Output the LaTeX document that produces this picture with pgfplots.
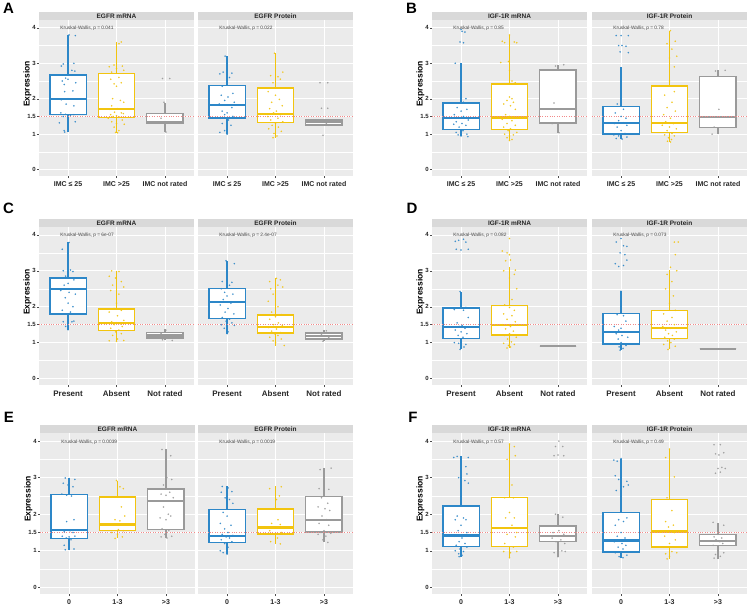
\documentclass[border=0pt]{standalone}
\usepackage{fontspec}
\setmainfont{Liberation Sans}
\usepackage{pgfplots}
\pgfplotsset{compat=1.18}
\usepgfplotslibrary{statistics}

\definecolor{cB}{HTML}{2D87C8}
\definecolor{cY}{HTML}{F2C40F}
\definecolor{cG}{HTML}{9A9A9A}
\definecolor{bgG}{HTML}{EBEBEB}
\definecolor{stG}{HTML}{D9D9D9}
\definecolor{redL}{HTML}{F28A8A}

\pgfplotsset{
  facet/.style={
    width=155pt, scale only axis,
    xmin=0.4, xmax=3.6, ymin=-0.18, ymax=4.22,
    axis background/.style={fill=bgG},
    axis line style={draw=none},
    xtick={1,2,3}, ytick={0,1,1.5,2,3,4}, yticklabels={0,1,1.5,2,3,4},
    minor ytick={0.5,2.5,3.5},
    grid=both,
    major grid style={white, line width=0.7pt},
    minor grid style={white, line width=0.35pt},
    tick align=outside, major tick length=2pt, minor tick length=0pt,
    tick style={black!70, line width=0.4pt},
    xtick pos=bottom, ytick pos=left,
    yticklabel style={font=\bfseries\fontsize{6}{7}\selectfont, text=black!85, inner xsep=1pt},
    /pgf/number format/assume math mode=true,
    clip=false,
    every axis y label/.style={at={([xshift=-11.5pt]rel axis cs:0,0.59)}, rotate=90, anchor=center,
      font=\bfseries\fontsize{8.5}{9}\selectfont},
  },
  nolab/.style={yticklabels={}, ytick style={draw=none}, ylabel={}},
  labA/.style={xticklabels={IMC ≤ 25, IMC >25, IMC not rated},
    xticklabel style={font=\bfseries\fontsize{7}{8}\selectfont, text=black!85}},
  labC/.style={xticklabels={Present, Absent, Not rated},
    xticklabel style={font=\bfseries\fontsize{8}{9}\selectfont, text=black!85}},
  labE/.style={xticklabels={0, 1-3, >3},
    xticklabel style={font=\bfseries\fontsize{7}{8}\selectfont, text=black!85}},
  boxplot/draw direction=y,
  boxplot/box extend=0.75,
  boxplot/whisker extend=0,
  boxplot/every box/.style={fill=white},
  boxplot/every median/.style={line width=2.2pt},
  bx/.style n args={6}{boxplot prepared={draw position=#1, lower whisker=#2,
      lower quartile=#3, median=#4, upper quartile=#5, upper whisker=#6}, line width=1.4pt},
  pts/.style={only marks, mark=*, mark size=0.6pt, color=#1, opacity=0.75},
  redl/.style={redL, dash pattern=on 1pt off 1.4pt, line width=0.8pt},
}

\newcommand\strip[2]{%
  \fill[stG] (rel axis cs:0,1) rectangle ([yshift=8pt]rel axis cs:1,1);
  \node[font=\bfseries\fontsize{6.5}{7}\selectfont, text=black!85] at ([yshift=4pt]rel axis cs:0.5,1) {#1};
  \node[anchor=west, font=\fontsize{4.8}{5}\selectfont, text=black!75] at (axis cs:0.77,3.98) {Kruskal-Wallis, p = #2};
}

\begin{document}
\begin{tikzpicture}
\useasboundingbox (0,0) rectangle (753pt,-606pt);

% ---------------- A ----------------
\begin{axis}[facet, labA, height=156pt, at={(39pt,-20pt)}, anchor=north west, ylabel={Expression}]
\strip{EGFR mRNA}{0.041}
\addplot[bx={1}{1.06}{1.55}{1.99}{2.67}{3.80}, draw=cB] coordinates {};
\addplot[bx={2}{1.04}{1.47}{1.70}{2.71}{3.60}, draw=cY] coordinates {};
\addplot[bx={3}{1.06}{1.30}{1.34}{1.58}{1.89}, draw=cG] coordinates {};
\addplot[redl] coordinates {(0.4,1.5) (3.6,1.5)};
\addplot[pts=cB] coordinates {(1.02,3.80)(1.15,3.78)(1.12,3.00)(0.90,2.98)(0.86,2.92)(1.08,2.80)(1.14,2.78)(0.95,2.58)(1.00,2.55)(0.88,2.50)(1.16,2.45)(0.92,2.40)(1.10,2.22)(0.93,2.20)(1.00,2.00)(0.86,1.97)(0.96,1.85)(1.12,1.80)(0.85,1.60)(0.95,1.56)(1.12,1.55)(1.05,1.53)(0.90,1.50)(1.00,1.40)(1.15,1.35)(0.82,1.32)(0.92,1.10)(0.93,1.06)};
\addplot[pts=cY] coordinates {(2.10,3.60)(2.05,3.55)(1.95,2.95)(2.12,2.92)(1.85,2.90)(2.00,2.85)(2.15,2.80)(1.90,2.75)(2.05,2.60)(1.88,2.55)(2.10,2.45)(1.95,2.42)(2.00,2.35)(1.92,2.00)(2.08,1.95)(2.15,1.90)(1.90,1.80)(2.02,1.72)(1.85,1.70)(1.96,1.62)(2.10,1.60)(2.14,1.58)(1.88,1.55)(2.00,1.52)(1.93,1.50)(2.06,1.48)(1.83,1.45)(2.12,1.40)(1.90,1.35)(2.00,1.30)(2.16,1.28)(1.95,1.20)(2.05,1.10)(1.98,1.05)(2.02,1.04)};
\addplot[pts=cG] coordinates {(2.95,2.57)(3.10,2.57)(2.98,1.90)(3.00,1.35)(3.05,1.31)(2.92,1.45)(3.02,1.06)};
\end{axis}
\begin{axis}[facet, labA, nolab, height=156pt, at={(198pt,-20pt)}, anchor=north west]
\strip{EGFR Protein}{0.022}
\addplot[bx={1}{1.00}{1.46}{1.82}{2.38}{3.20}, draw=cB] coordinates {};
\addplot[bx={2}{0.90}{1.33}{1.58}{2.30}{3.28}, draw=cY] coordinates {};
\addplot[bx={3}{1.26}{1.26}{1.34}{1.40}{1.40}, draw=cG] coordinates {};
\addplot[redl] coordinates {(0.4,1.5) (3.6,1.5)};
\addplot[pts=cB] coordinates {(0.96,3.20)(0.92,2.75)(1.10,2.72)(0.85,2.70)(1.05,2.60)(1.00,2.50)(0.90,2.35)(1.12,2.15)(0.88,2.10)(1.02,2.05)(0.95,1.95)(1.15,1.90)(0.84,1.85)(1.05,1.82)(1.10,1.75)(0.90,1.65)(1.00,1.60)(0.95,1.55)(1.12,1.50)(0.86,1.45)(1.03,1.40)(0.90,1.30)(1.08,1.25)(0.95,1.10)(0.85,1.05)(1.00,1.00)};
\addplot[pts=cY] coordinates {(1.98,3.28)(2.15,2.75)(1.90,2.65)(2.05,2.62)(2.10,2.55)(1.95,2.45)(2.12,2.30)(1.85,2.20)(2.00,2.10)(2.08,1.98)(1.92,1.90)(2.14,1.80)(1.88,1.72)(2.02,1.65)(1.96,1.60)(2.10,1.55)(1.84,1.50)(2.05,1.45)(1.90,1.40)(2.15,1.35)(2.00,1.30)(1.93,1.25)(2.06,1.20)(1.86,1.15)(2.12,1.08)(1.97,1.02)(2.03,0.95)(1.95,0.90)};
\addplot[pts=cG] coordinates {(2.92,2.45)(3.08,2.45)(2.95,1.73)(3.08,1.73)(2.98,0.97)(3.05,1.30)(3.10,1.25)};
\end{axis}

% ---------------- B ----------------
\begin{axis}[facet, labA, height=156pt, at={(432pt,-20pt)}, anchor=north west, ylabel={Expression}]
\strip{IGF-1R mRNA}{0.85}
\addplot[bx={1}{0.95}{1.14}{1.45}{1.88}{3.01}, draw=cB] coordinates {};
\addplot[bx={2}{0.81}{1.14}{1.47}{2.41}{3.80}, draw=cY] coordinates {};
\addplot[bx={3}{1.04}{1.31}{1.72}{2.81}{2.96}, draw=cG] coordinates {};
\addplot[redl] coordinates {(0.4,1.5) (3.6,1.5)};
\addplot[pts=cB] coordinates {(1.00,3.95)(1.02,3.90)(1.08,3.88)(0.98,3.60)(1.05,3.58)(0.88,3.00)(1.10,2.00)(1.05,1.90)(0.92,1.75)(1.12,1.70)(1.00,1.65)(0.86,1.55)(1.05,1.50)(0.95,1.45)(1.15,1.40)(0.90,1.35)(1.02,1.30)(0.85,1.28)(1.10,1.25)(0.96,1.20)(1.04,1.10)(0.90,1.05)(1.12,1.00)(0.94,0.98)(1.00,0.95)(1.14,0.93)};
\addplot[pts=cY] coordinates {(1.85,3.62)(1.90,3.58)(2.10,3.60)(2.15,3.58)(2.00,3.80)(1.82,3.02)(1.98,3.05)(2.00,2.80)(2.05,2.50)(2.12,2.45)(2.00,2.05)(2.05,2.00)(1.95,1.95)(2.08,1.90)(1.88,1.85)(2.02,1.80)(2.12,1.70)(1.92,1.55)(2.00,1.50)(2.10,1.45)(1.85,1.42)(2.05,1.38)(1.95,1.30)(2.12,1.25)(1.88,1.20)(2.02,1.15)(1.97,1.10)(2.15,1.05)(1.90,1.00)(2.08,0.98)(2.00,0.95)(1.95,0.90)(2.05,0.85)(2.00,0.82)};
\addplot[pts=cG] coordinates {(2.95,2.92)(3.12,2.96)(2.92,1.88)(2.88,1.30)(3.00,1.25)(3.02,1.04)};
\end{axis}
\begin{axis}[facet, labA, nolab, height=156pt, at={(592pt,-20pt)}, anchor=north west]
\strip{IGF-1R Protein}{0.78}
\addplot[bx={1}{0.85}{1.00}{1.31}{1.78}{2.90}, draw=cB] coordinates {};
\addplot[bx={2}{0.78}{1.04}{1.32}{2.36}{3.92}, draw=cY] coordinates {};
\addplot[bx={3}{1.00}{1.18}{1.49}{2.63}{2.80}, draw=cG] coordinates {};
\addplot[redl] coordinates {(0.4,1.5) (3.6,1.5)};
\addplot[pts=cB] coordinates {(0.90,3.78)(1.00,3.78)(1.15,3.78)(0.95,3.50)(1.02,3.50)(1.10,3.48)(0.98,3.32)(1.15,3.30)(0.92,1.85)(1.05,1.70)(0.88,1.60)(1.00,1.50)(1.10,1.45)(0.95,1.38)(1.05,1.32)(0.86,1.30)(1.12,1.25)(0.92,1.20)(1.00,1.10)(1.08,1.02)(0.85,0.98)(0.95,0.95)(1.12,0.92)(0.90,0.88)(1.02,0.86)};
\addplot[pts=cY] coordinates {(2.02,3.92)(1.95,3.55)(2.12,3.62)(2.05,3.40)(2.00,3.15)(2.15,3.20)(2.10,2.90)(2.00,2.50)(2.10,2.20)(1.90,2.10)(2.05,1.90)(1.95,1.75)(2.12,1.65)(1.88,1.55)(2.02,1.45)(1.92,1.35)(2.08,1.30)(1.85,1.25)(2.00,1.20)(2.14,1.15)(1.95,1.10)(2.05,1.02)(1.90,0.98)(2.10,0.95)(1.98,0.90)(2.04,0.85)(1.96,0.80)(2.02,0.78)};
\addplot[pts=cG] coordinates {(2.95,2.78)(3.15,2.80)(3.02,1.70)(2.92,1.20)(2.88,1.00)};
\end{axis}

% ---------------- C ----------------
\begin{axis}[facet, labC, height=158pt, at={(39pt,-227pt)}, anchor=north west, ylabel={Expression}]
\strip{EGFR mRNA}{6e-07}
\addplot[bx={1}{1.36}{1.80}{2.49}{2.80}{3.79}, draw=cB] coordinates {};
\addplot[bx={2}{1.04}{1.34}{1.55}{1.94}{3.00}, draw=cY] coordinates {};
\addplot[bx={3}{1.08}{1.13}{1.20}{1.29}{1.38}, draw=cG] coordinates {};
\addplot[redl] coordinates {(0.4,1.5) (3.6,1.5)};
\addplot[pts=cB] coordinates {(1.02,3.79)(0.88,3.60)(0.90,3.00)(1.05,3.02)(1.10,2.98)(1.00,2.90)(0.95,2.85)(1.12,2.75)(1.00,2.65)(0.92,2.60)(1.08,2.50)(0.85,2.45)(1.02,2.40)(1.15,2.35)(0.94,2.25)(1.00,2.10)(1.10,2.00)(0.88,1.90)(1.05,1.85)(0.96,1.80)(1.12,1.60)(0.90,1.58)(1.00,1.55)(1.08,1.58)(0.95,1.45)(1.00,1.36)};
\addplot[pts=cY] coordinates {(1.90,3.00)(2.05,2.98)(1.85,2.85)(1.98,2.80)(2.10,2.70)(1.92,2.60)(2.15,2.55)(1.88,2.45)(2.05,2.35)(2.00,2.10)(1.95,1.95)(2.10,1.90)(1.85,1.85)(2.02,1.75)(2.15,1.62)(1.90,1.58)(2.00,1.55)(2.08,1.52)(1.95,1.50)(2.12,1.45)(1.88,1.40)(2.05,1.35)(1.98,1.30)(2.10,1.25)(1.92,1.20)(2.02,1.10)(1.85,1.05)(2.15,1.06)(2.00,1.04)};
\addplot[pts=cG] coordinates {(3.02,1.35)(2.92,1.25)(3.10,1.18)(2.95,1.08)(3.15,1.06)};
\end{axis}
\begin{axis}[facet, labC, nolab, height=158pt, at={(198pt,-227pt)}, anchor=north west]
\strip{EGFR Protein}{2.4e-07}
\addplot[bx={1}{1.25}{1.67}{2.13}{2.50}{3.28}, draw=cB] coordinates {};
\addplot[bx={2}{0.92}{1.27}{1.43}{1.77}{2.79}, draw=cY] coordinates {};
\addplot[bx={3}{1.04}{1.10}{1.19}{1.27}{1.36}, draw=cG] coordinates {};
\addplot[redl] coordinates {(0.4,1.5) (3.6,1.5)};
\addplot[pts=cB] coordinates {(0.98,3.28)(1.15,3.20)(0.90,2.70)(1.00,2.72)(1.10,2.68)(1.05,2.60)(0.88,2.50)(0.95,2.40)(1.12,2.35)(1.00,2.30)(0.92,2.20)(1.08,2.10)(0.86,2.05)(1.02,1.95)(0.96,1.85)(1.14,1.80)(0.90,1.70)(1.05,1.65)(0.98,1.60)(1.10,1.55)(0.88,1.50)(1.00,1.45)(1.15,1.48)(0.94,1.40)(1.02,1.30)(1.00,1.25)};
\addplot[pts=cY] coordinates {(2.02,2.79)(2.10,2.75)(1.88,2.70)(2.05,2.60)(1.90,2.50)(2.15,2.55)(1.95,2.35)(1.85,2.15)(2.05,2.00)(1.92,1.85)(2.12,1.78)(2.00,1.72)(1.88,1.65)(2.06,1.55)(1.96,1.50)(2.14,1.48)(1.86,1.42)(2.02,1.38)(1.92,1.32)(2.10,1.28)(1.98,1.25)(2.05,1.20)(1.88,1.15)(2.12,1.10)(1.95,1.05)(2.00,1.00)(2.18,0.92)};
\addplot[pts=cG] coordinates {(3.05,1.33)(2.95,1.22)(3.10,1.15)(2.98,1.04)};
\end{axis}

% ---------------- D ----------------
\begin{axis}[facet, labC, height=158pt, at={(432pt,-227pt)}, anchor=north west, ylabel={Expression}]
\strip{IGF-1R mRNA}{0.082}
\addplot[bx={1}{0.81}{1.12}{1.43}{1.97}{2.42}, draw=cB] coordinates {};
\addplot[bx={2}{0.85}{1.21}{1.49}{2.03}{3.10}, draw=cY] coordinates {};
\addplot[bx={3}{0.90}{0.90}{0.90}{0.90}{0.90}, draw=cG] coordinates {};
\addplot[redl] coordinates {(0.4,1.5) (3.6,1.5)};
\addplot[pts=cB] coordinates {(0.88,3.82)(0.95,3.85)(1.05,3.88)(1.10,3.80)(0.90,3.60)(1.00,3.58)(1.15,3.60)(0.98,2.42)(0.86,1.92)(1.05,1.90)(1.10,1.98)(1.15,1.70)(0.92,1.55)(1.02,1.48)(0.96,1.45)(1.08,1.40)(0.88,1.35)(1.00,1.30)(1.12,1.25)(0.94,1.20)(1.04,1.15)(0.86,1.00)(0.95,0.98)(1.10,0.95)(1.00,0.90)(1.06,0.88)(0.98,0.81)};
\addplot[pts=cY] coordinates {(2.00,3.90)(1.85,3.55)(1.95,3.50)(2.00,3.45)(2.02,3.30)(1.92,3.28)(1.88,3.00)(2.12,3.02)(2.10,2.90)(2.00,2.80)(2.15,2.50)(2.05,2.20)(1.90,2.05)(2.00,1.98)(2.10,1.90)(1.88,1.80)(2.05,1.75)(1.95,1.65)(2.12,1.58)(1.85,1.50)(2.02,1.45)(1.92,1.38)(2.08,1.32)(2.00,1.25)(1.90,1.20)(2.14,1.15)(1.96,1.10)(2.04,1.02)(1.88,0.98)(2.10,0.95)(1.98,0.92)(2.02,0.88)(1.95,0.85)};
\addplot[pts=cG] coordinates {(3.05,0.90)};
\end{axis}
\begin{axis}[facet, labC, nolab, height=158pt, at={(592pt,-227pt)}, anchor=north west]
\strip{IGF-1R Protein}{0.073}
\addplot[bx={1}{0.79}{0.96}{1.29}{1.81}{2.43}, draw=cB] coordinates {};
\addplot[bx={2}{0.81}{1.11}{1.40}{1.89}{3.03}, draw=cY] coordinates {};
\addplot[bx={3}{0.83}{0.83}{0.83}{0.83}{0.83}, draw=cG] coordinates {};
\addplot[redl] coordinates {(0.4,1.5) (3.6,1.5)};
\addplot[pts=cB] coordinates {(0.90,3.80)(1.00,3.90)(1.05,3.70)(1.12,3.68)(0.98,3.50)(1.08,3.45)(0.88,3.20)(0.95,3.12)(1.05,3.15)(1.12,3.30)(1.00,2.43)(0.92,1.78)(1.05,1.75)(1.10,1.60)(0.86,1.45)(1.00,1.40)(0.95,1.35)(1.08,1.30)(0.90,1.25)(1.02,1.20)(1.14,1.15)(0.94,1.10)(1.00,1.00)(0.88,0.96)(1.10,0.92)(0.96,0.88)(1.04,0.84)(0.98,0.79)};
\addplot[pts=cY] coordinates {(2.10,3.80)(2.18,3.80)(2.12,3.45)(2.02,3.10)(2.15,3.00)(1.95,2.90)(2.05,2.70)(1.92,2.50)(2.08,2.30)(2.00,2.10)(2.12,1.90)(1.88,1.80)(2.05,1.70)(1.95,1.60)(2.10,1.50)(1.86,1.45)(2.02,1.40)(1.92,1.35)(2.14,1.30)(1.98,1.25)(2.06,1.20)(1.90,1.15)(2.10,1.10)(1.96,1.05)(2.03,1.00)(1.88,0.95)(2.12,0.90)(2.00,0.85)(1.97,0.81)};
\end{axis}

% ---------------- E ----------------
\begin{axis}[facet, labE, height=161pt, at={(40pt,-433pt)}, anchor=north west, ylabel={Expression}]
\strip{EGFR mRNA}{0.0039}
\addplot[bx={1}{1.03}{1.34}{1.56}{2.54}{2.99}, draw=cB] coordinates {};
\addplot[bx={2}{1.34}{1.55}{1.72}{2.47}{2.92}, draw=cY] coordinates {};
\addplot[bx={3}{1.35}{1.58}{2.36}{2.69}{3.77}, draw=cG] coordinates {};
\addplot[redl] coordinates {(0.4,1.5) (3.6,1.5)};
\addplot[pts=cB] coordinates {(0.92,2.99)(1.00,2.97)(1.12,2.95)(0.88,2.85)(0.98,2.80)(1.08,2.75)(0.85,2.55)(0.95,2.52)(1.05,2.50)(1.10,1.85)(0.95,1.80)(1.02,1.55)(0.90,1.52)(1.08,1.50)(0.86,1.40)(1.00,1.38)(1.12,1.40)(0.94,1.35)(1.04,1.30)(0.90,1.15)(1.00,1.10)(1.10,1.05)(0.92,1.03)};
\addplot[pts=cY] coordinates {(1.98,2.92)(2.05,2.75)(2.12,2.70)(1.90,2.47)(2.08,2.20)(1.95,1.85)(2.05,1.82)(2.15,1.95)(1.92,1.72)(2.02,1.58)(2.12,1.55)(1.88,1.50)(2.00,1.45)(2.10,1.38)(1.95,1.34)};
\addplot[pts=cG] coordinates {(2.92,3.77)(3.10,3.60)(3.02,3.00)(3.12,2.95)(2.95,2.80)(3.08,2.60)(2.90,2.55)(3.00,2.52)(3.15,2.45)(2.95,2.20)(3.05,2.00)(2.88,1.90)(3.10,1.95)(3.00,1.85)(2.92,1.60)(3.06,1.55)(2.98,1.45)(3.12,1.40)(2.90,1.38)(3.02,1.35)};
\end{axis}
\begin{axis}[facet, labE, nolab, height=161pt, at={(198pt,-433pt)}, anchor=north west]
\strip{EGFR Protein}{0.0019}
\addplot[bx={1}{0.91}{1.23}{1.41}{2.13}{2.76}, draw=cB] coordinates {};
\addplot[bx={2}{1.19}{1.46}{1.64}{2.14}{2.76}, draw=cY] coordinates {};
\addplot[bx={3}{1.23}{1.52}{1.85}{2.49}{3.26}, draw=cG] coordinates {};
\addplot[redl] coordinates {(0.4,1.5) (3.6,1.5)};
\addplot[pts=cB] coordinates {(0.90,2.76)(1.02,2.72)(0.88,2.60)(1.10,2.62)(0.96,2.45)(1.05,2.40)(1.12,2.30)(0.92,2.05)(1.00,1.95)(0.86,1.75)(1.08,1.70)(0.95,1.60)(1.02,1.50)(0.90,1.45)(1.12,1.42)(0.98,1.38)(1.05,1.35)(0.88,1.30)(1.10,1.25)(0.95,1.20)(1.02,1.10)(0.86,1.00)(0.92,0.95)(1.00,0.91)};
\addplot[pts=cY] coordinates {(1.88,2.70)(2.12,2.75)(2.08,2.50)(2.02,2.40)(1.95,2.15)(2.05,1.85)(1.92,1.75)(2.10,1.72)(2.00,1.64)(1.88,1.55)(2.12,1.50)(1.96,1.45)(2.04,1.35)(1.90,1.25)(2.10,1.19)};
\addplot[pts=cG] coordinates {(2.92,3.22)(3.15,3.26)(2.90,2.70)(3.00,2.65)(3.10,2.68)(2.95,2.45)(3.08,2.30)(2.88,2.20)(3.02,2.15)(3.12,2.10)(2.96,1.95)(3.05,1.85)(2.90,1.75)(3.10,1.70)(3.00,1.55)(2.94,1.50)(3.14,1.48)(2.88,1.45)(3.04,1.40)(2.98,1.30)(3.08,1.23)};
\end{axis}

% ---------------- F ----------------
\begin{axis}[facet, labE, height=161pt, at={(432pt,-433pt)}, anchor=north west, ylabel={Expression}]
\strip{IGF-1R mRNA}{0.57}
\addplot[bx={1}{0.84}{1.12}{1.42}{2.23}{3.58}, draw=cB] coordinates {};
\addplot[bx={2}{0.81}{1.12}{1.63}{2.46}{3.92}, draw=cY] coordinates {};
\addplot[bx={3}{0.84}{1.25}{1.41}{1.68}{2.00}, draw=cG] coordinates {};
\addplot[redl] coordinates {(0.4,1.5) (3.6,1.5)};
\addplot[pts=cB] coordinates {(0.85,3.55)(0.92,3.58)(1.15,3.55)(1.10,3.30)(1.12,3.10)(0.95,3.00)(1.00,2.98)(1.08,2.92)(1.15,2.85)(1.00,2.45)(0.92,1.95)(1.05,1.90)(0.88,1.85)(1.10,1.85)(1.00,1.70)(0.94,1.55)(1.12,1.50)(0.86,1.40)(1.02,1.35)(0.96,1.25)(1.08,1.20)(0.90,1.15)(1.12,1.10)(0.98,1.05)(0.88,1.00)(1.05,0.98)(0.95,0.92)(1.02,0.88)(0.96,0.84)};
\addplot[pts=cY] coordinates {(2.00,3.92)(2.10,3.85)(1.95,3.50)(2.12,3.60)(2.05,2.80)(1.90,2.45)(2.08,2.45)(2.00,2.05)(1.92,1.90)(2.10,1.90)(2.05,1.70)(2.15,1.50)(1.95,1.45)(2.12,1.38)(1.90,1.20)(2.08,1.10)(1.88,0.98)(2.02,0.95)(2.15,0.98)(2.00,0.81)};
\addplot[pts=cG] coordinates {(3.02,4.00)(2.95,3.85)(3.10,3.85)(2.92,3.60)(3.12,3.60)(3.00,3.62)(2.95,2.00)(3.10,1.92)(3.02,1.55)(2.90,1.50)(3.12,1.45)(3.00,1.40)(2.88,1.35)(3.06,1.30)(2.96,1.25)(3.14,1.20)(3.08,1.00)(3.15,0.98)(2.92,0.95)(3.00,0.84)};
\end{axis}
\begin{axis}[facet, labE, nolab, height=161pt, at={(592pt,-433pt)}, anchor=north west]
\strip{IGF-1R Protein}{0.49}
\addplot[bx={1}{0.81}{0.97}{1.28}{2.05}{3.52}, draw=cB] coordinates {};
\addplot[bx={2}{0.78}{1.10}{1.53}{2.40}{3.78}, draw=cY] coordinates {};
\addplot[bx={3}{0.78}{1.14}{1.27}{1.45}{1.76}, draw=cG] coordinates {};
\addplot[redl] coordinates {(0.4,1.5) (3.6,1.5)};
\addplot[pts=cB] coordinates {(0.85,3.48)(0.92,3.45)(1.00,3.52)(0.88,3.05)(0.95,2.95)(1.12,2.90)(1.05,2.75)(0.90,2.65)(1.15,2.80)(1.00,2.55)(1.00,2.20)(1.12,1.90)(0.95,1.85)(1.05,1.80)(0.88,1.70)(1.00,1.50)(0.92,1.40)(1.08,1.35)(0.86,1.25)(1.02,1.20)(1.10,1.15)(0.94,1.10)(1.04,1.05)(0.88,0.95)(1.00,0.92)(1.12,0.88)(0.96,0.84)(1.04,0.81)};
\addplot[pts=cY] coordinates {(2.00,3.78)(1.92,3.55)(2.10,3.02)(1.95,2.45)(2.05,2.10)(1.92,1.80)(2.08,1.70)(1.98,1.65)(2.10,1.50)(1.90,1.40)(2.12,1.30)(2.00,1.20)(1.88,1.10)(2.05,0.98)(2.15,0.95)(1.92,0.92)(2.00,0.85)(1.95,0.78)};
\addplot[pts=cG] coordinates {(2.92,3.90)(3.05,3.90)(2.95,3.65)(3.02,3.62)(3.12,3.68)(3.00,3.25)(3.08,3.28)(3.15,3.25)(2.95,3.12)(3.05,3.15)(2.90,1.78)(3.12,1.70)(3.00,1.45)(2.92,1.38)(3.08,1.35)(2.96,1.30)(3.04,1.25)(3.10,1.20)(2.90,1.15)(3.00,1.10)(3.12,0.95)(2.95,0.90)(3.05,0.85)(2.92,0.80)};
\end{axis}

% panel letters
\node[font=\bfseries\fontsize{15}{15}\selectfont] at (8.5pt,-8pt) {A};
\node[font=\bfseries\fontsize{15}{15}\selectfont] at (411.5pt,-8pt) {B};
\node[font=\bfseries\fontsize{15}{15}\selectfont] at (8.5pt,-208pt) {C};
\node[font=\bfseries\fontsize{15}{15}\selectfont] at (412pt,-208pt) {D};
\node[font=\bfseries\fontsize{15}{15}\selectfont] at (9pt,-417pt) {E};
\node[font=\bfseries\fontsize{15}{15}\selectfont] at (413pt,-417pt) {F};
\end{tikzpicture}
\end{document}
